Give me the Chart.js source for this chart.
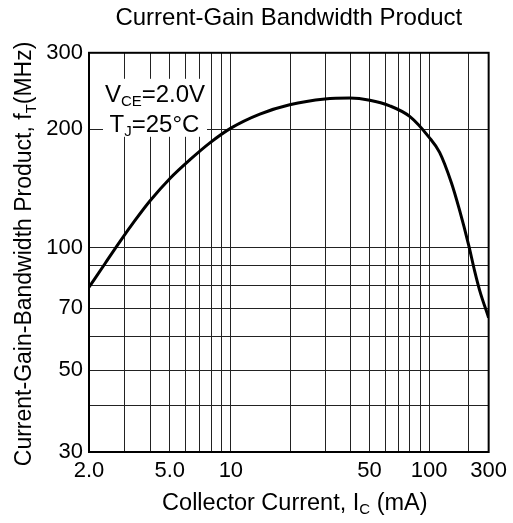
<!DOCTYPE html>
<html>
<head>
<meta charset="utf-8">
<script src="https://cdn.jsdelivr.net/npm/chart.js@4.4.0/dist/chart.umd.min.js"></script>
<style>
  body { margin: 0; background: #fff; }
  #wrap { width: 513px; height: 523px; }
</style>
</head>
<body>
<div id="wrap"><canvas id="ftChart" width="513" height="523"></canvas></div>
<script>
// collector current (mA) and current-gain bandwidth product (MHz)
const collectorCurrent = [2, 2.4, 2.84, 3.37, 3.99, 5.01, 6.29, 7.88, 10, 14, 19.8, 29.8, 39.8, 50.2, 63.3, 79.8, 99.8, 120.2, 148, 169.9, 200, 225.9, 249.9, 300];
const ftValues = [79.2, 91.1, 103.6, 117.2, 131.3, 149.8, 167.2, 184.5, 201, 216.6, 227.6, 234.7, 235.9, 233.2, 226.3, 213.9, 190.8, 174.5, 145.9, 125, 101.5, 87.1, 77.8, 66.5];

// graph paper lines and the printed labels
const xGridValues = [2, 3, 4, 5, 6, 7, 8, 9, 10, 20, 30, 40, 50, 60, 70, 80, 90, 100, 200, 300];
const xLabelValues = [2, 5, 10, 50, 100, 300];
const xLabelTexts = ['2.0', '5.0', '10', '50', '100', '300'];
const yGridValues = [30, 40, 50, 60, 70, 80, 90, 100, 200, 300];
const yLabelValues = [30, 50, 70, 100, 200, 300];

const FONT = "'Liberation Sans', Arial, Helvetica, sans-serif";

// the printed paper is not an exact log grid, so each axis is stretched
// piecewise between these values (fraction of the axis length)
const warp = {
  x: { knots: [2, 10, 100, 200, 300], fracs: [0, 0.355, 0.851, 0.95, 1] },
  y: { knots: [30, 50, 70, 100, 200, 300], fracs: [0, 0.205, 0.36, 0.512, 0.809, 1] }
};

class PaperLogScale extends Chart.LogarithmicScale {
  warpFrac(v) {
    const { knots, fracs } = warp[this.axis];
    let i = 0;
    while (i < knots.length - 2 && v > knots[i + 1]) i++;
    const a = Math.log10(knots[i]), b = Math.log10(knots[i + 1]);
    return fracs[i] + (Math.log10(v) - a) / (b - a) * (fracs[i + 1] - fracs[i]);
  }
  getPixelForValue(value) {
    if (value === undefined || value === null || value <= 0) {
      value = this.min;
    }
    return this.getPixelForDecimal(this.warpFrac(value));
  }
  getValueForPixel(pixel) {
    const d = this.getDecimalForPixel(pixel);
    const { knots, fracs } = warp[this.axis];
    let i = 0;
    while (i < fracs.length - 2 && d > fracs[i + 1]) i++;
    const a = Math.log10(knots[i]), b = Math.log10(knots[i + 1]);
    return Math.pow(10, a + (d - fracs[i]) / (fracs[i + 1] - fracs[i]) * (b - a));
  }
}
PaperLogScale.id = 'paperLog';
PaperLogScale.defaults = Chart.LogarithmicScale.defaults;
Chart.register(PaperLogScale);

// text with subscripts, centred on cx
function drawRich(ctx, parts, cx, baseline, size, subSize, subDrop) {
  let w = 0;
  parts.forEach(([t, sub]) => {
    ctx.font = (sub ? subSize : size) + 'px ' + FONT;
    w += ctx.measureText(t).width;
  });
  let x = cx - w / 2;
  parts.forEach(([t, sub]) => {
    ctx.font = (sub ? subSize : size) + 'px ' + FONT;
    ctx.fillText(t, x, baseline + (sub ? subDrop : 0));
    x += ctx.measureText(t).width;
  });
}

const paperText = {
  id: 'paperText',
  beforeDatasetsDraw(chart) {
    const { ctx, chartArea: ca } = chart;
    ctx.save();
    ctx.fillStyle = '#fff';
    ctx.fillRect(ca.left + 14, ca.top + 26, 104, 58);
    ctx.fillStyle = '#000';
    ctx.textBaseline = 'alphabetic';
    drawRich(ctx, [['V', 0], ['CE', 1], ['=2.0V', 0]], ca.left + 66, ca.top + 49, 24, 15, 4);
    drawRich(ctx, [['T', 0], ['J', 1], ['=25°C', 0]], ca.left + 65.5, ca.top + 79, 24, 15, 4);
    ctx.restore();
  },
  afterDraw(chart) {
    const { ctx, chartArea: ca } = chart;
    ctx.save();
    ctx.strokeStyle = '#000';
    ctx.lineWidth = 2;
    ctx.strokeRect(ca.left, ca.top, ca.right - ca.left, ca.bottom - ca.top);

    ctx.fillStyle = '#000';
    ctx.textBaseline = 'alphabetic';
    drawRich(ctx, [['Collector Current, I', 0], ['C', 1], [' (mA)', 0]],
      (ca.left + ca.right) / 2 + 6, ca.bottom + 58, 23.5, 15, 4);

    ctx.translate(31, (ca.top + ca.bottom) / 2 + 1.5);
    ctx.rotate(-Math.PI / 2);
    drawRich(ctx, [['Current-Gain-Bandwidth Product, f', 0], ['T', 1], ['(MHz)', 0]],
      0, 0, 23, 15, 5);
    ctx.restore();
  }
};

const tickFont = { family: FONT, size: 22 };

new Chart(document.getElementById('ftChart'), {
  type: 'line',
  data: {
    datasets: [{
      data: collectorCurrent.map((c, i) => ({ x: c, y: ftValues[i] })),
      borderColor: '#000',
      borderWidth: 3,
      pointRadius: 0,
      fill: false,
      cubicInterpolationMode: 'monotone'
    }]
  },
  options: {
    responsive: false,
    devicePixelRatio: 1,
    animation: false,
    events: [],
    layout: { padding: { left: 0, right: 24, top: 0, bottom: 0 } },
    plugins: {
      legend: { display: false },
      tooltip: { enabled: false },
      title: {
        display: true,
        fullSize: false,
        text: 'Current-Gain Bandwidth Product',
        color: '#000',
        font: { family: FONT, size: 24, weight: 'normal' },
        padding: { top: 4, bottom: 20 }
      }
    },
    scales: {
      x: {
        type: 'paperLog',
        min: 2,
        max: 300,
        afterBuildTicks: s => { s.ticks = xGridValues.map(v => ({ value: v })); },
        afterFit: s => { s.height = 71; },
        ticks: {
          autoSkip: false,
          maxRotation: 0,
          padding: 6,
          color: '#000',
          font: tickFont,
          callback: v => {
            const i = xLabelValues.indexOf(v);
            return i < 0 ? '' : xLabelTexts[i];
          }
        },
        grid: { color: '#222', lineWidth: 1, drawTicks: false },
        border: { display: false }
      },
      y: {
        type: 'paperLog',
        min: 30,
        max: 300,
        afterBuildTicks: s => { s.ticks = yGridValues.map(v => ({ value: v })); },
        afterFit: s => { s.width = 89; },
        ticks: {
          autoSkip: false,
          padding: 6,
          color: '#000',
          font: tickFont,
          callback: v => (yLabelValues.includes(v) ? String(v) : '')
        },
        grid: { color: '#222', lineWidth: 1, drawTicks: false },
        border: { display: false }
      }
    }
  },
  plugins: [paperText]
});
</script>
</body>
</html>
